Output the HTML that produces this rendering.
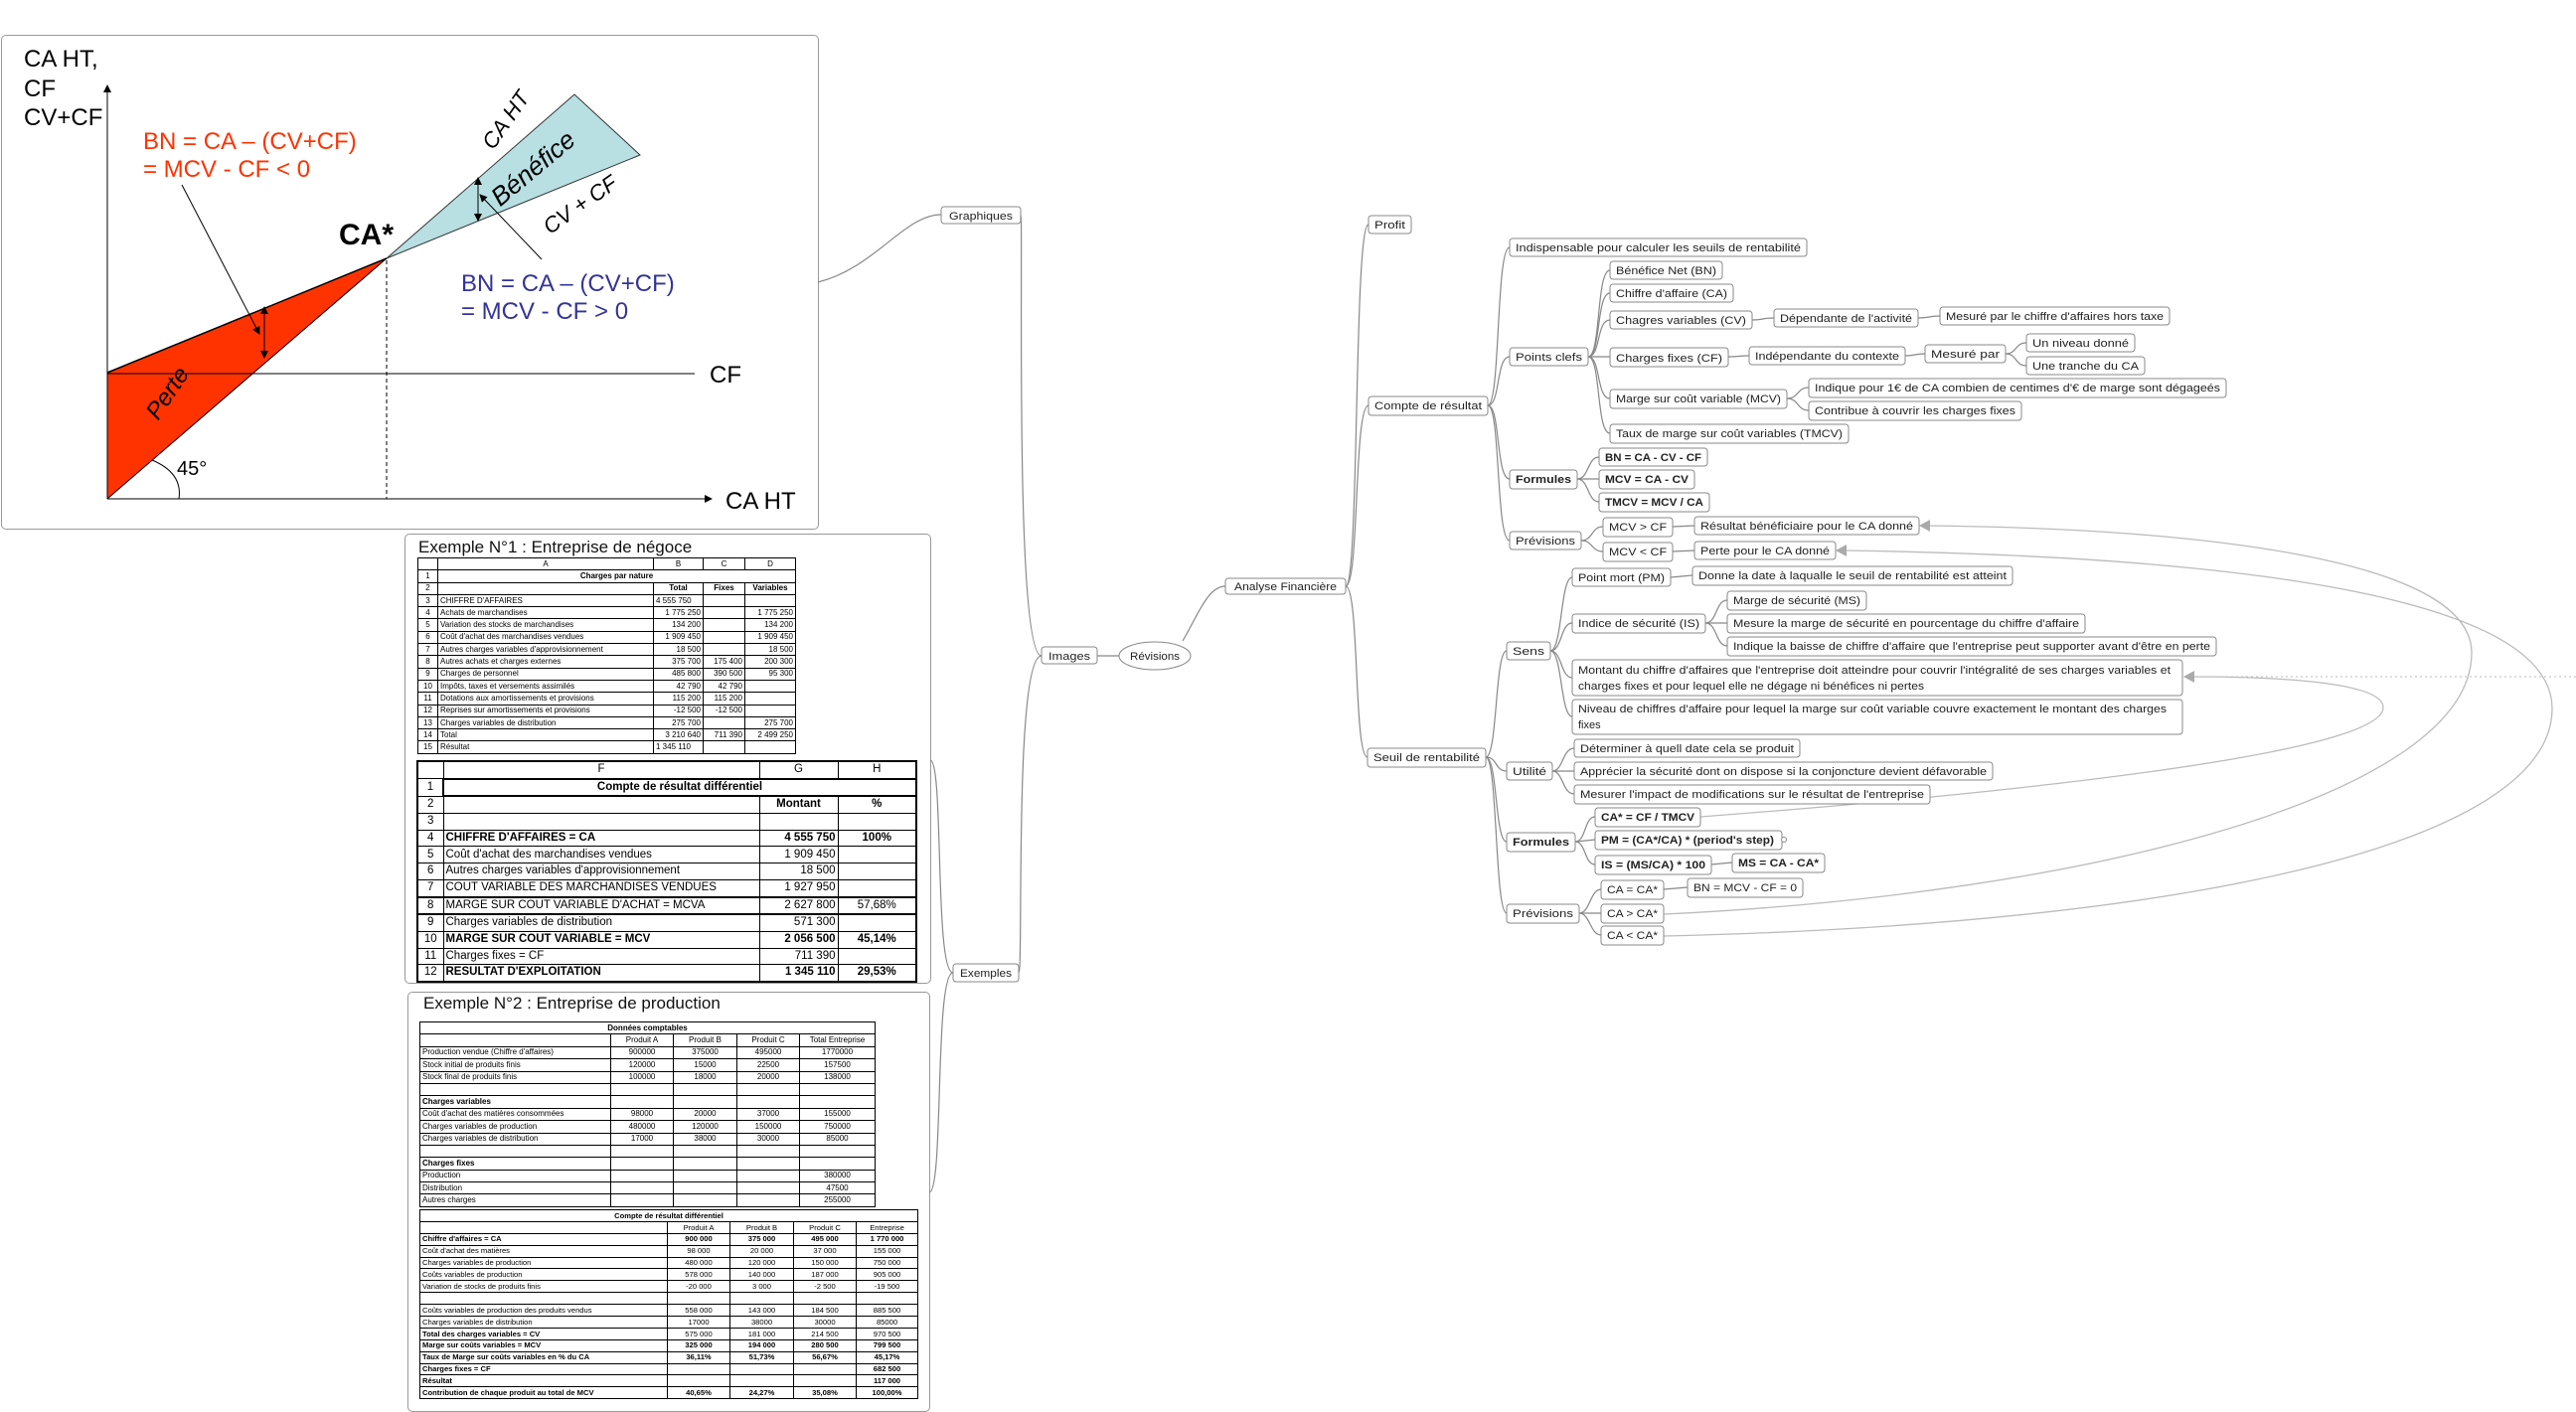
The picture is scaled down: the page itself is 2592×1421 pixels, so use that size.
<!DOCTYPE html>
<html><head><meta charset="utf-8">
<style>
body{margin:0;width:2592px;height:1421px;background:#fff;position:relative;overflow:hidden;font-family:"Liberation Sans",Arial,sans-serif;}
svg{position:absolute;left:0;top:0}
.box{position:absolute;border:1px solid #999;border-radius:5px;background:#fff}
table{position:absolute;border-collapse:collapse;table-layout:fixed;font-family:"Liberation Sans",Arial,sans-serif;color:#000;background:#fff}
td{border:1px solid #000;padding:0 2px;white-space:nowrap;overflow:hidden;line-height:1}
.r{text-align:right}.c{text-align:center}.b{font-weight:bold}
.t1 td{font-size:8px;height:11.3px}
.t2 td{font-size:11.5px;height:15.7px;border-width:1px}
.t2{border:2px solid #000}
.t3 td{font-size:8px;height:11.4px}
.t4 td{font-size:7.6px;height:10.9px}
.title{position:absolute;font-size:17px;color:#111}
</style></head><body>

<div class="box" style="left:1px;top:35px;width:821px;height:496px"></div>
<div class="box" style="left:407px;top:537px;width:528px;height:451px"></div>
<div class="box" style="left:410px;top:998px;width:524px;height:421px"></div>

<svg width="2592" height="1421" viewBox="0 0 2592 1421">
<defs>
<marker id="ar" markerWidth="8" markerHeight="8" refX="7" refY="4" orient="auto"><path d="M0,0 L8,4 L0,8 z" fill="#000"/></marker>
</defs>
<polygon points="108,375 389,260 108,502" fill="#ff3300"/>
<polygon points="389,260 578,95 644,156" fill="#b8dfe2" stroke="#333" stroke-width="1"/>
<line x1="108" y1="375" x2="389" y2="260" stroke="#000" stroke-width="1.5"/>
<line x1="108" y1="502" x2="389" y2="260" stroke="#000" stroke-width="1"/>
<line x1="108" y1="502" x2="108" y2="86" stroke="#000" stroke-width="1" marker-end="url(#ar)"/>
<line x1="108" y1="502" x2="716" y2="502" stroke="#000" stroke-width="1" marker-end="url(#ar)"/>
<line x1="108" y1="376" x2="699" y2="376" stroke="#000" stroke-width="1"/>
<line x1="389" y1="262" x2="389" y2="502" stroke="#000" stroke-width="1" stroke-dasharray="4,3"/>
<line x1="183" y1="186" x2="261" y2="336" stroke="#000" stroke-width="1" marker-end="url(#ar)"/>
<line x1="545" y1="261" x2="483" y2="196" stroke="#000" stroke-width="1" marker-end="url(#ar)"/>
<line x1="266" y1="318" x2="266" y2="360" stroke="#000" marker-end="url(#ar)" />
<line x1="266" y1="340" x2="266" y2="309" stroke="#000" marker-end="url(#ar)" />
<line x1="481" y1="190" x2="481" y2="222" stroke="#000" marker-end="url(#ar)" />
<line x1="481" y1="210" x2="481" y2="179" stroke="#000" marker-end="url(#ar)" />
<path d="M180,502 Q184,476 153,463" fill="none" stroke="#000"/>
<g font-family="Liberation Sans, Arial, sans-serif" font-size="24" fill="#000">
<text x="24" y="67">CA HT,</text>
<text x="24" y="97">CF</text>
<text x="24" y="126">CV+CF</text>
<text x="714" y="385">CF</text>
<text x="730" y="512">CA HT</text>
<text x="178" y="478" font-size="20">45°</text>
<text x="341" y="246" font-size="30" font-weight="bold">CA*</text>
<text x="144" y="150" fill="#ff3300">BN = CA – (CV+CF)</text>
<text x="144" y="178" fill="#ff3300">= MCV - CF &lt; 0</text>
<text x="464" y="293" fill="#333399">BN = CA – (CV+CF)</text>
<text x="464" y="321" fill="#333399">= MCV - CF &gt; 0</text>
<text transform="translate(175,400) rotate(-56)" text-anchor="middle" font-style="italic">Perte</text>
<text transform="translate(542,176) rotate(-40)" text-anchor="middle" font-style="italic" font-size="26">Bénéfice</text>
<text transform="translate(515,125) rotate(-55)" text-anchor="middle" font-style="italic" font-size="22">CA HT</text>
<text transform="translate(588,212) rotate(-35)" text-anchor="middle" font-style="italic" font-size="22">CV + CF</text>
</g>

<g fill="none" stroke="#888" stroke-width="1.2">
<path d="M823,284 C880,270 910,216 947,216"/>
<path d="M1048,660 C1020,660 1030,216 1027,216"/>
<path d="M1048,660 C1020,660 1030,979 1025,979"/>
<path d="M959,979 C940,979 950,765 936,765"/>
<path d="M959,979 C940,979 950,1200 935,1200"/>
<path d="M1104,660 L1126,660"/>
<path d="M1190,645 C1205,620 1215,590 1233,590"/>
<path d="M1354,590 C1368,590 1362,226 1377,226"/>
<path d="M1354,590 C1368,590 1362,408 1377,408"/>
<path d="M1354,590 C1368,590 1362,762 1376,762"/>
<path d="M1497,408 C1510,408 1505,249 1519,249"/>
<path d="M1497,408 C1510,408 1505,359 1519,359"/>
<path d="M1497,408 C1510,408 1505,482 1519,482"/>
<path d="M1497,408 C1510,408 1505,544 1519,544"/>
<path d="M1598,359 C1611,359 1606,272 1620,272"/>
<path d="M1598,359 C1611,359 1606,295 1620,295"/>
<path d="M1598,359 C1611,359 1606,322 1620,322"/>
<path d="M1598,359 L1620,359"/>
<path d="M1598,359 C1611,359 1606,401 1620,401"/>
<path d="M1598,359 C1611,359 1606,436 1620,436"/>
<path d="M1763,322 C1775,322 1773,320 1785,320"/>
<path d="M1930,320 C1942,320 1940,318 1952,318"/>
<path d="M1739,359 C1750,359 1749,358 1760,358"/>
<path d="M1917,358 C1927,358 1927,356 1937,356"/>
<path d="M2018,356 C2030,356 2027,345 2039,345"/>
<path d="M2018,356 C2030,356 2027,368 2039,368"/>
<path d="M1798,401 C1810,401 1808,390 1820,390"/>
<path d="M1798,401 C1810,401 1808,413 1820,413"/>
<path d="M1587,482 C1599,482 1597,460 1609,460"/>
<path d="M1587,482 L1609,482"/>
<path d="M1587,482 C1599,482 1597,505 1609,505"/>
<path d="M1591,544 C1603,544 1601,530 1613,530"/>
<path d="M1591,544 C1603,544 1601,555 1613,555"/>
<path d="M1683,530 L1705,529"/>
<path d="M1683,555 L1705,554"/>
<path d="M1495,762 C1507,762 1504,655 1516,655"/>
<path d="M1495,762 C1507,762 1504,776 1516,776"/>
<path d="M1495,762 C1507,762 1504,847 1516,847"/>
<path d="M1495,762 C1507,762 1504,919 1516,919"/>
<path d="M1560,655 C1572,655 1570,581 1582,581"/>
<path d="M1560,655 C1572,655 1570,627 1582,627"/>
<path d="M1560,655 C1572,655 1570,682 1582,682"/>
<path d="M1560,655 C1572,655 1570,721 1582,721"/>
<path d="M1681,581 L1703,579"/>
<path d="M1716,627 C1728,627 1726,604 1738,604"/>
<path d="M1716,627 L1738,627"/>
<path d="M1716,627 C1728,627 1726,650 1738,650"/>
<path d="M1562,776 C1573,776 1572,753 1584,753"/>
<path d="M1562,776 L1584,776"/>
<path d="M1562,776 C1573,776 1572,799 1584,799"/>
<path d="M1585,847 C1596,847 1594,822 1605,822"/>
<path d="M1585,847 L1605,845"/>
<path d="M1585,847 C1596,847 1594,870 1605,870"/>
<path d="M1722,870 L1743,868"/>
<path d="M1589,919 C1600,919 1600,895 1611,895"/>
<path d="M1589,919 L1611,919"/>
<path d="M1589,919 C1600,919 1600,941 1611,941"/>
<path d="M1674,895 L1698,893"/>
</g>
<g fill="none" stroke="#bbb" stroke-width="1.3">
<path d="M1674,920 C2100,900 2487,800 2487,657 C2487,560 2200,532 1940,529"/>
<path d="M1674,942 C2200,930 2568,850 2568,713 C2568,600 2250,560 1856,554"/>
<path d="M1711,822 C2000,800 2398,760 2398,712 C2398,685 2280,681 2205,681"/>
<path d="M2200,681 L2592,681" stroke-dasharray="2,3" stroke-width="1"/>
</g>
<g fill="#aaa">
<path d="M1931,529 L1942,523 L1942,535 z"/>
<path d="M1847,554 L1858,548 L1858,560 z"/>
<path d="M2197,681 L2208,675 L2208,687 z"/>
</g>

<g font-family="Liberation Sans, Arial, sans-serif" font-size="11" fill="#222">
<g fill="#fff" stroke="#888" stroke-width="1">
<rect x="947" y="208" width="80" height="17" rx="3"/>
<rect x="1048" y="651" width="56" height="17" rx="3"/>
<ellipse cx="1162" cy="660" rx="36" ry="14"/>
<rect x="1233" y="582" width="121" height="16" rx="3"/>
<rect x="959" y="970" width="66" height="18" rx="3"/>
<rect x="1377" y="217" width="43" height="18" rx="3"/>
<rect x="1377" y="399" width="120" height="19" rx="3"/>
<rect x="1519" y="240" width="299" height="18" rx="3"/>
<rect x="1519" y="350" width="79" height="18" rx="3"/>
<rect x="1620" y="263" width="113" height="18" rx="3"/>
<rect x="1620" y="286" width="124" height="18" rx="3"/>
<rect x="1620" y="313" width="143" height="18" rx="3"/>
<rect x="1785" y="311" width="145" height="18" rx="3"/>
<rect x="1952" y="309" width="231" height="18" rx="3"/>
<rect x="1620" y="350" width="119" height="19" rx="3"/>
<rect x="1760" y="349" width="157" height="18" rx="3"/>
<rect x="1937" y="347" width="81" height="18" rx="3"/>
<rect x="2039" y="336" width="109" height="18" rx="3"/>
<rect x="2039" y="359" width="119" height="18" rx="3"/>
<rect x="1620" y="392" width="178" height="19" rx="3"/>
<rect x="1820" y="381" width="420" height="19" rx="3"/>
<rect x="1820" y="404" width="214" height="19" rx="3"/>
<rect x="1620" y="427" width="240" height="19" rx="3"/>
<rect x="1519" y="473" width="68" height="19" rx="3"/>
<rect x="1609" y="451" width="109" height="18" rx="3"/>
<rect x="1609" y="473" width="96" height="19" rx="3"/>
<rect x="1609" y="496" width="111" height="19" rx="3"/>
<rect x="1519" y="535" width="72" height="18" rx="3"/>
<rect x="1613" y="521" width="70" height="19" rx="3"/>
<rect x="1705" y="520" width="226" height="18" rx="3"/>
<rect x="1613" y="546" width="70" height="19" rx="3"/>
<rect x="1705" y="545" width="142" height="18" rx="3"/>
<rect x="1376" y="753" width="119" height="19" rx="3"/>
<rect x="1516" y="646" width="44" height="18" rx="3"/>
<rect x="1582" y="572" width="99" height="18" rx="3"/>
<rect x="1703" y="570" width="322" height="19" rx="3"/>
<rect x="1582" y="618" width="134" height="19" rx="3"/>
<rect x="1738" y="595" width="140" height="19" rx="3"/>
<rect x="1738" y="618" width="360" height="19" rx="3"/>
<rect x="1738" y="641" width="492" height="19" rx="3"/>
<rect x="1582" y="664" width="614" height="36" rx="3"/>
<rect x="1582" y="704" width="614" height="35" rx="3"/>
<rect x="1516" y="767" width="46" height="18" rx="3"/>
<rect x="1584" y="744" width="227" height="18" rx="3"/>
<rect x="1584" y="767" width="421" height="18" rx="3"/>
<rect x="1584" y="790" width="358" height="19" rx="3"/>
<rect x="1516" y="838" width="69" height="19" rx="3"/>
<rect x="1605" y="813" width="106" height="19" rx="3"/>
<rect x="1605" y="836" width="188" height="19" rx="3"/>
<rect x="1605" y="861" width="117" height="19" rx="3"/>
<rect x="1743" y="859" width="93" height="19" rx="3"/>
<rect x="1516" y="910" width="73" height="19" rx="3"/>
<rect x="1611" y="886" width="63" height="19" rx="3"/>
<rect x="1698" y="884" width="116" height="19" rx="3"/>
<rect x="1611" y="910" width="63" height="19" rx="3"/>
<rect x="1611" y="932" width="63" height="19" rx="3"/>
</g>
<text x="955" y="221" textLength="64" lengthAdjust="spacingAndGlyphs">Graphiques</text>
<text x="1055" y="664" textLength="42" lengthAdjust="spacingAndGlyphs">Images</text>
<text x="1137" y="664" textLength="50" lengthAdjust="spacingAndGlyphs">Révisions</text>
<text x="1242" y="594" textLength="103" lengthAdjust="spacingAndGlyphs">Analyse Financière</text>
<text x="966" y="983" textLength="52" lengthAdjust="spacingAndGlyphs">Exemples</text>
<text x="1383" y="230" textLength="31" lengthAdjust="spacingAndGlyphs">Profit</text>
<text x="1383" y="412" textLength="108" lengthAdjust="spacingAndGlyphs">Compte de résultat</text>
<text x="1525" y="253" textLength="287" lengthAdjust="spacingAndGlyphs">Indispensable pour calculer les seuils de rentabilité</text>
<text x="1525" y="363" textLength="67" lengthAdjust="spacingAndGlyphs">Points clefs</text>
<text x="1626" y="276" textLength="101" lengthAdjust="spacingAndGlyphs">Bénéfice Net (BN)</text>
<text x="1626" y="299" textLength="112" lengthAdjust="spacingAndGlyphs">Chiffre d'affaire (CA)</text>
<text x="1626" y="326" textLength="131" lengthAdjust="spacingAndGlyphs">Chagres variables (CV)</text>
<text x="1791" y="324" textLength="133" lengthAdjust="spacingAndGlyphs">Dépendante de l'activité</text>
<text x="1958" y="322" textLength="219" lengthAdjust="spacingAndGlyphs">Mesuré par le chiffre d'affaires hors taxe</text>
<text x="1626" y="364" textLength="107" lengthAdjust="spacingAndGlyphs">Charges fixes (CF)</text>
<text x="1766" y="362" textLength="145" lengthAdjust="spacingAndGlyphs">Indépendante du contexte</text>
<text x="1943" y="360" textLength="69" lengthAdjust="spacingAndGlyphs">Mesuré par</text>
<text x="2045" y="349" textLength="97" lengthAdjust="spacingAndGlyphs">Un niveau donné</text>
<text x="2045" y="372" textLength="107" lengthAdjust="spacingAndGlyphs">Une tranche du CA</text>
<text x="1626" y="405" textLength="166" lengthAdjust="spacingAndGlyphs">Marge sur coût variable (MCV)</text>
<text x="1826" y="394" textLength="408" lengthAdjust="spacingAndGlyphs">Indique pour 1€ de CA combien de centimes d'€ de marge sont dégageés</text>
<text x="1826" y="417" textLength="202" lengthAdjust="spacingAndGlyphs">Contribue à couvrir les charges fixes</text>
<text x="1626" y="440" textLength="228" lengthAdjust="spacingAndGlyphs">Taux de marge sur coût variables (TMCV)</text>
<g font-weight="bold">
<text x="1525" y="486" textLength="56" lengthAdjust="spacingAndGlyphs">Formules</text>
<text x="1615" y="464" textLength="97" lengthAdjust="spacingAndGlyphs">BN = CA - CV - CF</text>
<text x="1615" y="486" textLength="84" lengthAdjust="spacingAndGlyphs">MCV = CA - CV</text>
<text x="1615" y="509" textLength="99" lengthAdjust="spacingAndGlyphs">TMCV = MCV / CA</text>
<text x="1522" y="851" textLength="57" lengthAdjust="spacingAndGlyphs">Formules</text>
<text x="1611" y="826" textLength="94" lengthAdjust="spacingAndGlyphs">CA* = CF / TMCV</text>
<text x="1611" y="849" textLength="174" lengthAdjust="spacingAndGlyphs">PM = (CA*/CA) * (period's step)</text>
<text x="1611" y="874" textLength="105" lengthAdjust="spacingAndGlyphs">IS = (MS/CA) * 100</text>
<text x="1749" y="872" textLength="81" lengthAdjust="spacingAndGlyphs">MS = CA - CA*</text>
</g>
<text x="1525" y="548" textLength="60" lengthAdjust="spacingAndGlyphs">Prévisions</text>
<text x="1619" y="534" textLength="58" lengthAdjust="spacingAndGlyphs">MCV &gt; CF</text>
<text x="1711" y="533" textLength="214" lengthAdjust="spacingAndGlyphs">Résultat bénéficiaire pour le CA donné</text>
<text x="1619" y="559" textLength="58" lengthAdjust="spacingAndGlyphs">MCV &lt; CF</text>
<text x="1711" y="558" textLength="130" lengthAdjust="spacingAndGlyphs">Perte pour le CA donné</text>
<text x="1382" y="766" textLength="107" lengthAdjust="spacingAndGlyphs">Seuil de rentabilité</text>
<text x="1522" y="659" textLength="32" lengthAdjust="spacingAndGlyphs">Sens</text>
<text x="1588" y="585" textLength="87" lengthAdjust="spacingAndGlyphs">Point mort (PM)</text>
<text x="1709" y="583" textLength="310" lengthAdjust="spacingAndGlyphs">Donne la date à laqualle le seuil de rentabilité est atteint</text>
<text x="1588" y="631" textLength="122" lengthAdjust="spacingAndGlyphs">Indice de sécurité (IS)</text>
<text x="1744" y="608" textLength="128" lengthAdjust="spacingAndGlyphs">Marge de sécurité (MS)</text>
<text x="1744" y="631" textLength="348" lengthAdjust="spacingAndGlyphs">Mesure la marge de sécurité en pourcentage du chiffre d'affaire</text>
<text x="1744" y="654" textLength="480" lengthAdjust="spacingAndGlyphs">Indique la baisse de chiffre d'affaire que l'entreprise peut supporter avant d'être en perte</text>
<text x="1588" y="678" textLength="596" lengthAdjust="spacingAndGlyphs">Montant du chiffre d'affaires que l'entreprise doit atteindre pour couvrir l'intégralité de ses charges variables et</text>
<text x="1588" y="694" textLength="348" lengthAdjust="spacingAndGlyphs">charges fixes et pour lequel elle ne dégage ni bénéfices ni pertes</text>
<text x="1588" y="717" textLength="592" lengthAdjust="spacingAndGlyphs">Niveau de chiffres d'affaire pour lequel la marge sur coût variable couvre exactement le montant des charges</text>
<text x="1588" y="733">fixes</text>
<text x="1522" y="780" textLength="34" lengthAdjust="spacingAndGlyphs">Utilité</text>
<text x="1590" y="757" textLength="215" lengthAdjust="spacingAndGlyphs">Déterminer à quell date cela se produit</text>
<text x="1590" y="780" textLength="409" lengthAdjust="spacingAndGlyphs">Apprécier la sécurité dont on dispose si la conjoncture devient défavorable</text>
<text x="1590" y="803" textLength="346" lengthAdjust="spacingAndGlyphs">Mesurer l'impact de modifications sur le résultat de l'entreprise</text>
<text x="1522" y="923" textLength="61" lengthAdjust="spacingAndGlyphs">Prévisions</text>
<text x="1617" y="899" textLength="51" lengthAdjust="spacingAndGlyphs">CA = CA*</text>
<text x="1704" y="897" textLength="104" lengthAdjust="spacingAndGlyphs">BN = MCV - CF = 0</text>
<text x="1617" y="923" textLength="51" lengthAdjust="spacingAndGlyphs">CA &gt; CA*</text>
<text x="1617" y="945" textLength="51" lengthAdjust="spacingAndGlyphs">CA &lt; CA*</text>
</g>
<circle cx="1795" cy="845" r="2.5" fill="#fff" stroke="#888"/>
</svg>

<div class="title" style="left:421px;top:541px">Exemple N°1 : Entreprise de négoce</div>
<table class="t1" style="left:420px;top:561px;width:380px">
<colgroup><col style="width:20px"><col style="width:217px"><col style="width:50px"><col style="width:42px"><col style="width:51px"></colgroup>
<tr><td></td><td class="c">A</td><td class="c">B</td><td class="c">C</td><td class="c">D</td></tr>
<tr><td class="c">1</td><td colspan="4" class="c b">Charges par nature</td></tr>
<tr><td class="c">2</td><td></td><td class="c b">Total</td><td class="c b">Fixes</td><td class="c b">Variables</td></tr>
<tr><td class="c">3</td><td>CHIFFRE D'AFFAIRES</td><td>4 555 750</td><td></td><td></td></tr>
<tr><td class="c">4</td><td>Achats de marchandises</td><td class="r">1 775 250</td><td></td><td class="r">1 775 250</td></tr>
<tr><td class="c">5</td><td>Variation des stocks de marchandises</td><td class="r">134 200</td><td></td><td class="r">134 200</td></tr>
<tr><td class="c">6</td><td>Coût d'achat des marchandises vendues</td><td class="r">1 909 450</td><td></td><td class="r">1 909 450</td></tr>
<tr><td class="c">7</td><td>Autres charges variables d'approvisionnement</td><td class="r">18 500</td><td></td><td class="r">18 500</td></tr>
<tr><td class="c">8</td><td>Autres achats et charges externes</td><td class="r">375 700</td><td class="r">175 400</td><td class="r">200 300</td></tr>
<tr><td class="c">9</td><td>Charges de personnel</td><td class="r">485 800</td><td class="r">390 500</td><td class="r">95 300</td></tr>
<tr><td class="c">10</td><td>Impôts, taxes et versements assimilés</td><td class="r">42 790</td><td class="r">42 790</td><td></td></tr>
<tr><td class="c">11</td><td>Dotations aux amortissements et provisions</td><td class="r">115 200</td><td class="r">115 200</td><td></td></tr>
<tr><td class="c">12</td><td>Reprises sur amortissements et provisions</td><td class="r">-12 500</td><td class="r">-12 500</td><td></td></tr>
<tr><td class="c">13</td><td>Charges variables de distribution</td><td class="r">275 700</td><td></td><td class="r">275 700</td></tr>
<tr><td class="c">14</td><td>Total</td><td class="r">3 210 640</td><td class="r">711 390</td><td class="r">2 499 250</td></tr>
<tr><td class="c">15</td><td>Résultat</td><td>1 345 110</td><td></td><td></td></tr>
</table>

<table class="t2" style="left:419px;top:765px;width:502px">
<colgroup><col style="width:26px"><col style="width:318px"><col style="width:79px"><col style="width:79px"></colgroup>
<tr><td></td><td class="c">F</td><td class="c">G</td><td class="c">H</td></tr>
<tr><td class="c">1</td><td colspan="3" class="c b" style="border:2px solid #000">Compte de résultat différentiel</td></tr>
<tr><td class="c">2</td><td></td><td class="c b">Montant</td><td class="c b">%</td></tr>
<tr><td class="c">3</td><td></td><td></td><td></td></tr>
<tr><td class="c">4</td><td class="b">CHIFFRE D'AFFAIRES = CA</td><td class="r b">4 555 750</td><td class="c b">100%</td></tr>
<tr><td class="c">5</td><td>Coût d'achat des marchandises vendues</td><td class="r">1 909 450</td><td></td></tr>
<tr><td class="c">6</td><td>Autres charges variables d'approvisionnement</td><td class="r">18 500</td><td></td></tr>
<tr><td class="c">7</td><td>COUT VARIABLE DES MARCHANDISES VENDUES</td><td class="r">1 927 950</td><td></td></tr>
<tr style="border-top:2px solid #000;border-bottom:2px solid #000"><td class="c">8</td><td>MARGE SUR COUT VARIABLE D'ACHAT = MCVA</td><td class="r">2 627 800</td><td class="c">57,68%</td></tr>
<tr><td class="c">9</td><td>Charges variables de distribution</td><td class="r">571 300</td><td></td></tr>
<tr><td class="c">10</td><td class="b">MARGE SUR COUT VARIABLE = MCV</td><td class="r b">2 056 500</td><td class="c b">45,14%</td></tr>
<tr><td class="c">11</td><td>Charges fixes = CF</td><td class="r">711 390</td><td></td></tr>
<tr><td class="c">12</td><td class="b">RESULTAT D'EXPLOITATION</td><td class="r b">1 345 110</td><td class="c b">29,53%</td></tr>
</table>

<div class="title" style="left:426px;top:1000px">Exemple N°2 : Entreprise de production</div>
<table class="t3" style="left:422px;top:1028px;width:458px">
<colgroup><col style="width:192px"><col style="width:63px"><col style="width:64px"><col style="width:63px"><col style="width:76px"></colgroup>
<tr><td colspan="5" class="c b">Données comptables</td></tr>
<tr><td></td><td class="c">Produit A</td><td class="c">Produit B</td><td class="c">Produit C</td><td class="c">Total Entreprise</td></tr>
<tr><td>Production vendue (Chiffre d'affaires)</td><td class="c">900000</td><td class="c">375000</td><td class="c">495000</td><td class="c">1770000</td></tr>
<tr><td>Stock initial de produits finis</td><td class="c">120000</td><td class="c">15000</td><td class="c">22500</td><td class="c">157500</td></tr>
<tr><td>Stock final de produits finis</td><td class="c">100000</td><td class="c">18000</td><td class="c">20000</td><td class="c">138000</td></tr>
<tr><td></td><td></td><td></td><td></td><td></td></tr>
<tr><td class="b">Charges variables</td><td></td><td></td><td></td><td></td></tr>
<tr><td>Coût d'achat des matières consommées</td><td class="c">98000</td><td class="c">20000</td><td class="c">37000</td><td class="c">155000</td></tr>
<tr><td>Charges variables de production</td><td class="c">480000</td><td class="c">120000</td><td class="c">150000</td><td class="c">750000</td></tr>
<tr><td>Charges variables de distribution</td><td class="c">17000</td><td class="c">38000</td><td class="c">30000</td><td class="c">85000</td></tr>
<tr><td></td><td></td><td></td><td></td><td></td></tr>
<tr><td class="b">Charges fixes</td><td></td><td></td><td></td><td></td></tr>
<tr><td>Production</td><td></td><td></td><td></td><td class="c">380000</td></tr>
<tr><td>Distribution</td><td></td><td></td><td></td><td class="c">47500</td></tr>
<tr><td>Autres charges</td><td></td><td></td><td></td><td class="c">255000</td></tr>
</table>

<table class="t4" style="left:422px;top:1217px;width:501px">
<colgroup><col style="width:249px"><col style="width:63px"><col style="width:64px"><col style="width:63px"><col style="width:62px"></colgroup>
<tr><td colspan="5" class="c b">Compte de résultat différentiel</td></tr>
<tr><td></td><td class="c">Produit A</td><td class="c">Produit B</td><td class="c">Produit C</td><td class="c">Entreprise</td></tr>
<tr class="b"><td>Chiffre d'affaires = CA</td><td class="c">900 000</td><td class="c">375 000</td><td class="c">495 000</td><td class="c">1 770 000</td></tr>
<tr><td>Coût d'achat des matières</td><td class="c">98 000</td><td class="c">20 000</td><td class="c">37 000</td><td class="c">155 000</td></tr>
<tr><td>Charges variables de production</td><td class="c">480 000</td><td class="c">120 000</td><td class="c">150 000</td><td class="c">750 000</td></tr>
<tr><td>Coûts variables de production</td><td class="c">578 000</td><td class="c">140 000</td><td class="c">187 000</td><td class="c">905 000</td></tr>
<tr><td>Variation de stocks de produits finis</td><td class="c">-20 000</td><td class="c">3 000</td><td class="c">-2 500</td><td class="c">-19 500</td></tr>
<tr><td></td><td></td><td></td><td></td><td></td></tr>
<tr><td>Coûts variables de production des produits vendus</td><td class="c">558 000</td><td class="c">143 000</td><td class="c">184 500</td><td class="c">885 500</td></tr>
<tr><td>Charges variables de distribution</td><td class="c">17000</td><td class="c">38000</td><td class="c">30000</td><td class="c">85000</td></tr>
<tr><td class="b">Total des charges variables = CV</td><td class="c">575 000</td><td class="c">181 000</td><td class="c">214 500</td><td class="c">970 500</td></tr>
<tr class="b"><td>Marge sur coûts variables = MCV</td><td class="c">325 000</td><td class="c">194 000</td><td class="c">280 500</td><td class="c">799 500</td></tr>
<tr class="b"><td>Taux de Marge sur coûts variables en % du CA</td><td class="c">36,11%</td><td class="c">51,73%</td><td class="c">56,67%</td><td class="c">45,17%</td></tr>
<tr class="b"><td>Charges fixes = CF</td><td></td><td></td><td></td><td class="c">682 500</td></tr>
<tr class="b"><td>Résultat</td><td></td><td></td><td></td><td class="c">117 000</td></tr>
<tr class="b"><td>Contribution de chaque produit au total de MCV</td><td class="c">40,65%</td><td class="c">24,27%</td><td class="c">35,08%</td><td class="c">100,00%</td></tr>
</table>
</body></html>
